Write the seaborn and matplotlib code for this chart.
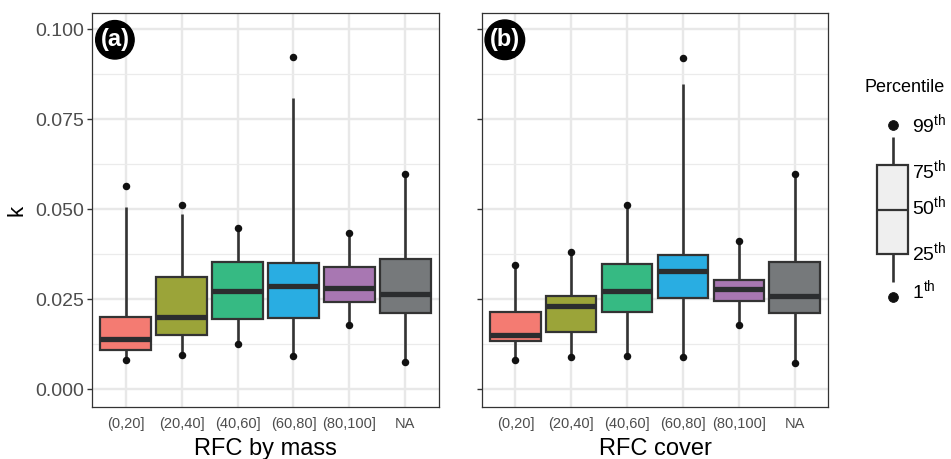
import numpy as np
import pandas as pd
import matplotlib
matplotlib.use("Agg")
import matplotlib.pyplot as plt
import seaborn as sns
from matplotlib.ticker import MultipleLocator, FormatStrFormatter

categories = ["(0,20]", "(20,40]", "(40,60]", "(60,80]", "(80,100]", "NA"]
colors = ["#F47B72", "#9BA439", "#36BA83", "#29ADE2", "#A877B2", "#76797B"]

# Panel (a): RFC by mass
a_p1 = [0.0081, 0.0095, 0.0127, 0.0093, 0.0179, 0.0076]
a_wlo = [0.0081, 0.0095, 0.0127, 0.0093, 0.0179, 0.0076]
a_q1 = [0.0109, 0.0152, 0.0194, 0.0199, 0.0243, 0.0213]
a_med = [0.0141, 0.0202, 0.0274, 0.0288, 0.0282, 0.0266]
a_q3 = [0.0200, 0.0311, 0.0354, 0.0350, 0.0339, 0.0361]
a_whi = [0.0506, 0.0487, 0.0447, 0.0810, 0.0433, 0.0598]
a_p99 = [0.0564, 0.0513, 0.0447, 0.0922, 0.0433, 0.0598]

# Panel (b): RFC cover
b_p1 = [0.0081, 0.0091, 0.0093, 0.0091, 0.0179, 0.0074]
b_wlo = [0.0081, 0.0091, 0.0093, 0.0091, 0.0179, 0.0074]
b_q1 = [0.0135, 0.0158, 0.0214, 0.0254, 0.0246, 0.0211]
b_med = [0.0151, 0.0232, 0.0273, 0.0329, 0.0279, 0.0259]
b_q3 = [0.0214, 0.0259, 0.0348, 0.0373, 0.0305, 0.0353]
b_whi = [0.0345, 0.0381, 0.0512, 0.0847, 0.0413, 0.0597]
b_p99 = [0.0345, 0.0381, 0.0512, 0.0919, 0.0413, 0.0597]

yticks = [0.000, 0.025, 0.050, 0.075, 0.100]
legend_labels = ["99", "75", "50", "25", "1"]

sns.set_style("whitegrid")
plt.rcParams["font.family"] = ["Liberation Sans", "DejaVu Sans"]
plt.rcParams["mathtext.fontset"] = "custom"
plt.rcParams["mathtext.rm"] = "Liberation Sans"
plt.rcParams["mathtext.it"] = "Liberation Sans"

W, H = 951, 459
fig = plt.figure(figsize=(W / 100, H / 100), dpi=100)


def px_rect(x0, y0, x1, y1):
    return [x0 / W, 1 - y1 / H, (x1 - x0) / W, (y1 - y0) / H]


ax_a = fig.add_axes(px_rect(92, 13, 439, 407))
ax_b = fig.add_axes(px_rect(482, 13, 828, 407))


def long_box(wlo, q1, med, q3, whi):
    rows = []
    for i, c in enumerate(categories):
        for v in (wlo[i], q1[i], med[i], q3[i], whi[i]):
            rows.append((c, v))
    return pd.DataFrame(rows, columns=["cat", "k"])


def long_dots(p1, p99):
    rows = []
    for i, c in enumerate(categories):
        rows.append((c, p1[i]))
        rows.append((c, p99[i]))
    return pd.DataFrame(rows, columns=["cat", "k"])


def draw_panel(ax, box_df, dot_df, xlabel, tag, show_ylabels):
    ax.set_axisbelow(True)
    sns.boxplot(data=box_df, x="cat", y="k", hue="cat", order=categories,
                hue_order=categories, palette=colors, width=0.9,
                whis=(0, 100), showfliers=False, showcaps=False,
                saturation=1, linecolor="#333333", linewidth=1.6,
                legend=False, ax=ax,
                medianprops=dict(color="#2B2D2F", linewidth=3.8),
                whiskerprops=dict(color="#333333", linewidth=1.9),
                boxprops=dict(edgecolor="#333333", linewidth=1.6))
    sns.stripplot(data=dot_df, x="cat", y="k", order=categories,
                  jitter=False, color="#111111", size=5.4, ax=ax, zorder=6)
    ax.set_xlim(-0.6, 5.6)
    ax.set_ylim(-0.0049, 0.1045)
    ax.set_yticks(yticks)
    ax.yaxis.set_major_formatter(FormatStrFormatter("%.3f"))
    ax.yaxis.set_minor_locator(MultipleLocator(0.0125))
    ax.grid(True, which="major", color="#E8E8E8", linewidth=1.7)
    ax.grid(True, which="minor", axis="y", color="#EBEBEB", linewidth=0.9)
    ax.tick_params(axis="both", which="major", length=3.5, width=1.0,
                   color="#333333", labelcolor="#4D4D4D", pad=2.5)
    ax.tick_params(axis="y", which="minor", length=0)
    ax.tick_params(axis="x", labelsize=10.5, pad=4)
    ax.tick_params(axis="y", labelsize=14, labelleft=show_ylabels,
                   left=True)
    for sp in ax.spines.values():
        sp.set_visible(True)
        sp.set_color("#333333")
        sp.set_linewidth(0.9)
    ax.set_xlabel(xlabel, fontsize=17, color="black", labelpad=4.5)
    if show_ylabels:
        ax.set_ylabel("k", fontsize=16, color="black", labelpad=5)
    else:
        ax.set_ylabel("")
    ax.text(0.066, 0.932, tag, transform=ax.transAxes, ha="center",
            va="center", color="white", fontsize=17, fontweight="bold",
            bbox=dict(boxstyle="circle,pad=0.2", fc="black", ec="black"),
            zorder=10)


draw_panel(ax_a, long_box(a_wlo, a_q1, a_med, a_q3, a_whi),
           long_dots(a_p1, a_p99), "RFC by mass", "(a)", True)
draw_panel(ax_b, long_box(b_wlo, b_q1, b_med, b_q3, b_whi),
           long_dots(b_p1, b_p99), "RFC cover", "(b)", False)

# Legend key (schematic)
ax_l = fig.add_axes(px_rect(860, 110, 925, 310))
ax_l.set_ylim(310, 110)
key_df = pd.DataFrame({"k": [137, 165, 210, 254, 282]})
sns.boxplot(data=key_df, y="k", color="#EFEFEF", width=0.49,
            whis=(0, 100), showfliers=False, showcaps=False, saturation=1,
            linecolor="#333333", linewidth=1.6, ax=ax_l,
            medianprops=dict(color="#333333", linewidth=1.6),
            whiskerprops=dict(color="#333333", linewidth=1.9))
sns.scatterplot(x=[0, 0], y=[125, 297], color="#111111", s=50, ax=ax_l,
                zorder=6, edgecolor="#111111")
ax_l.set_xlim(-0.5, 0.5)
ax_l.set_ylim(310, 110)
ax_l.axis("off")

fig.text(905 / W, 1 - 88 / H, "Percentile", ha="center", va="center",
         fontsize=13, color="black")
label_y = [124, 170, 206, 252, 290]
for lab, yy in zip(legend_labels, label_y):
    fig.text(912 / W, 1 - yy / H, lab + r"$^{\mathrm{th}}$", ha="left",
             va="center", fontsize=14, color="black")

fig.savefig("out.png", dpi=100)
